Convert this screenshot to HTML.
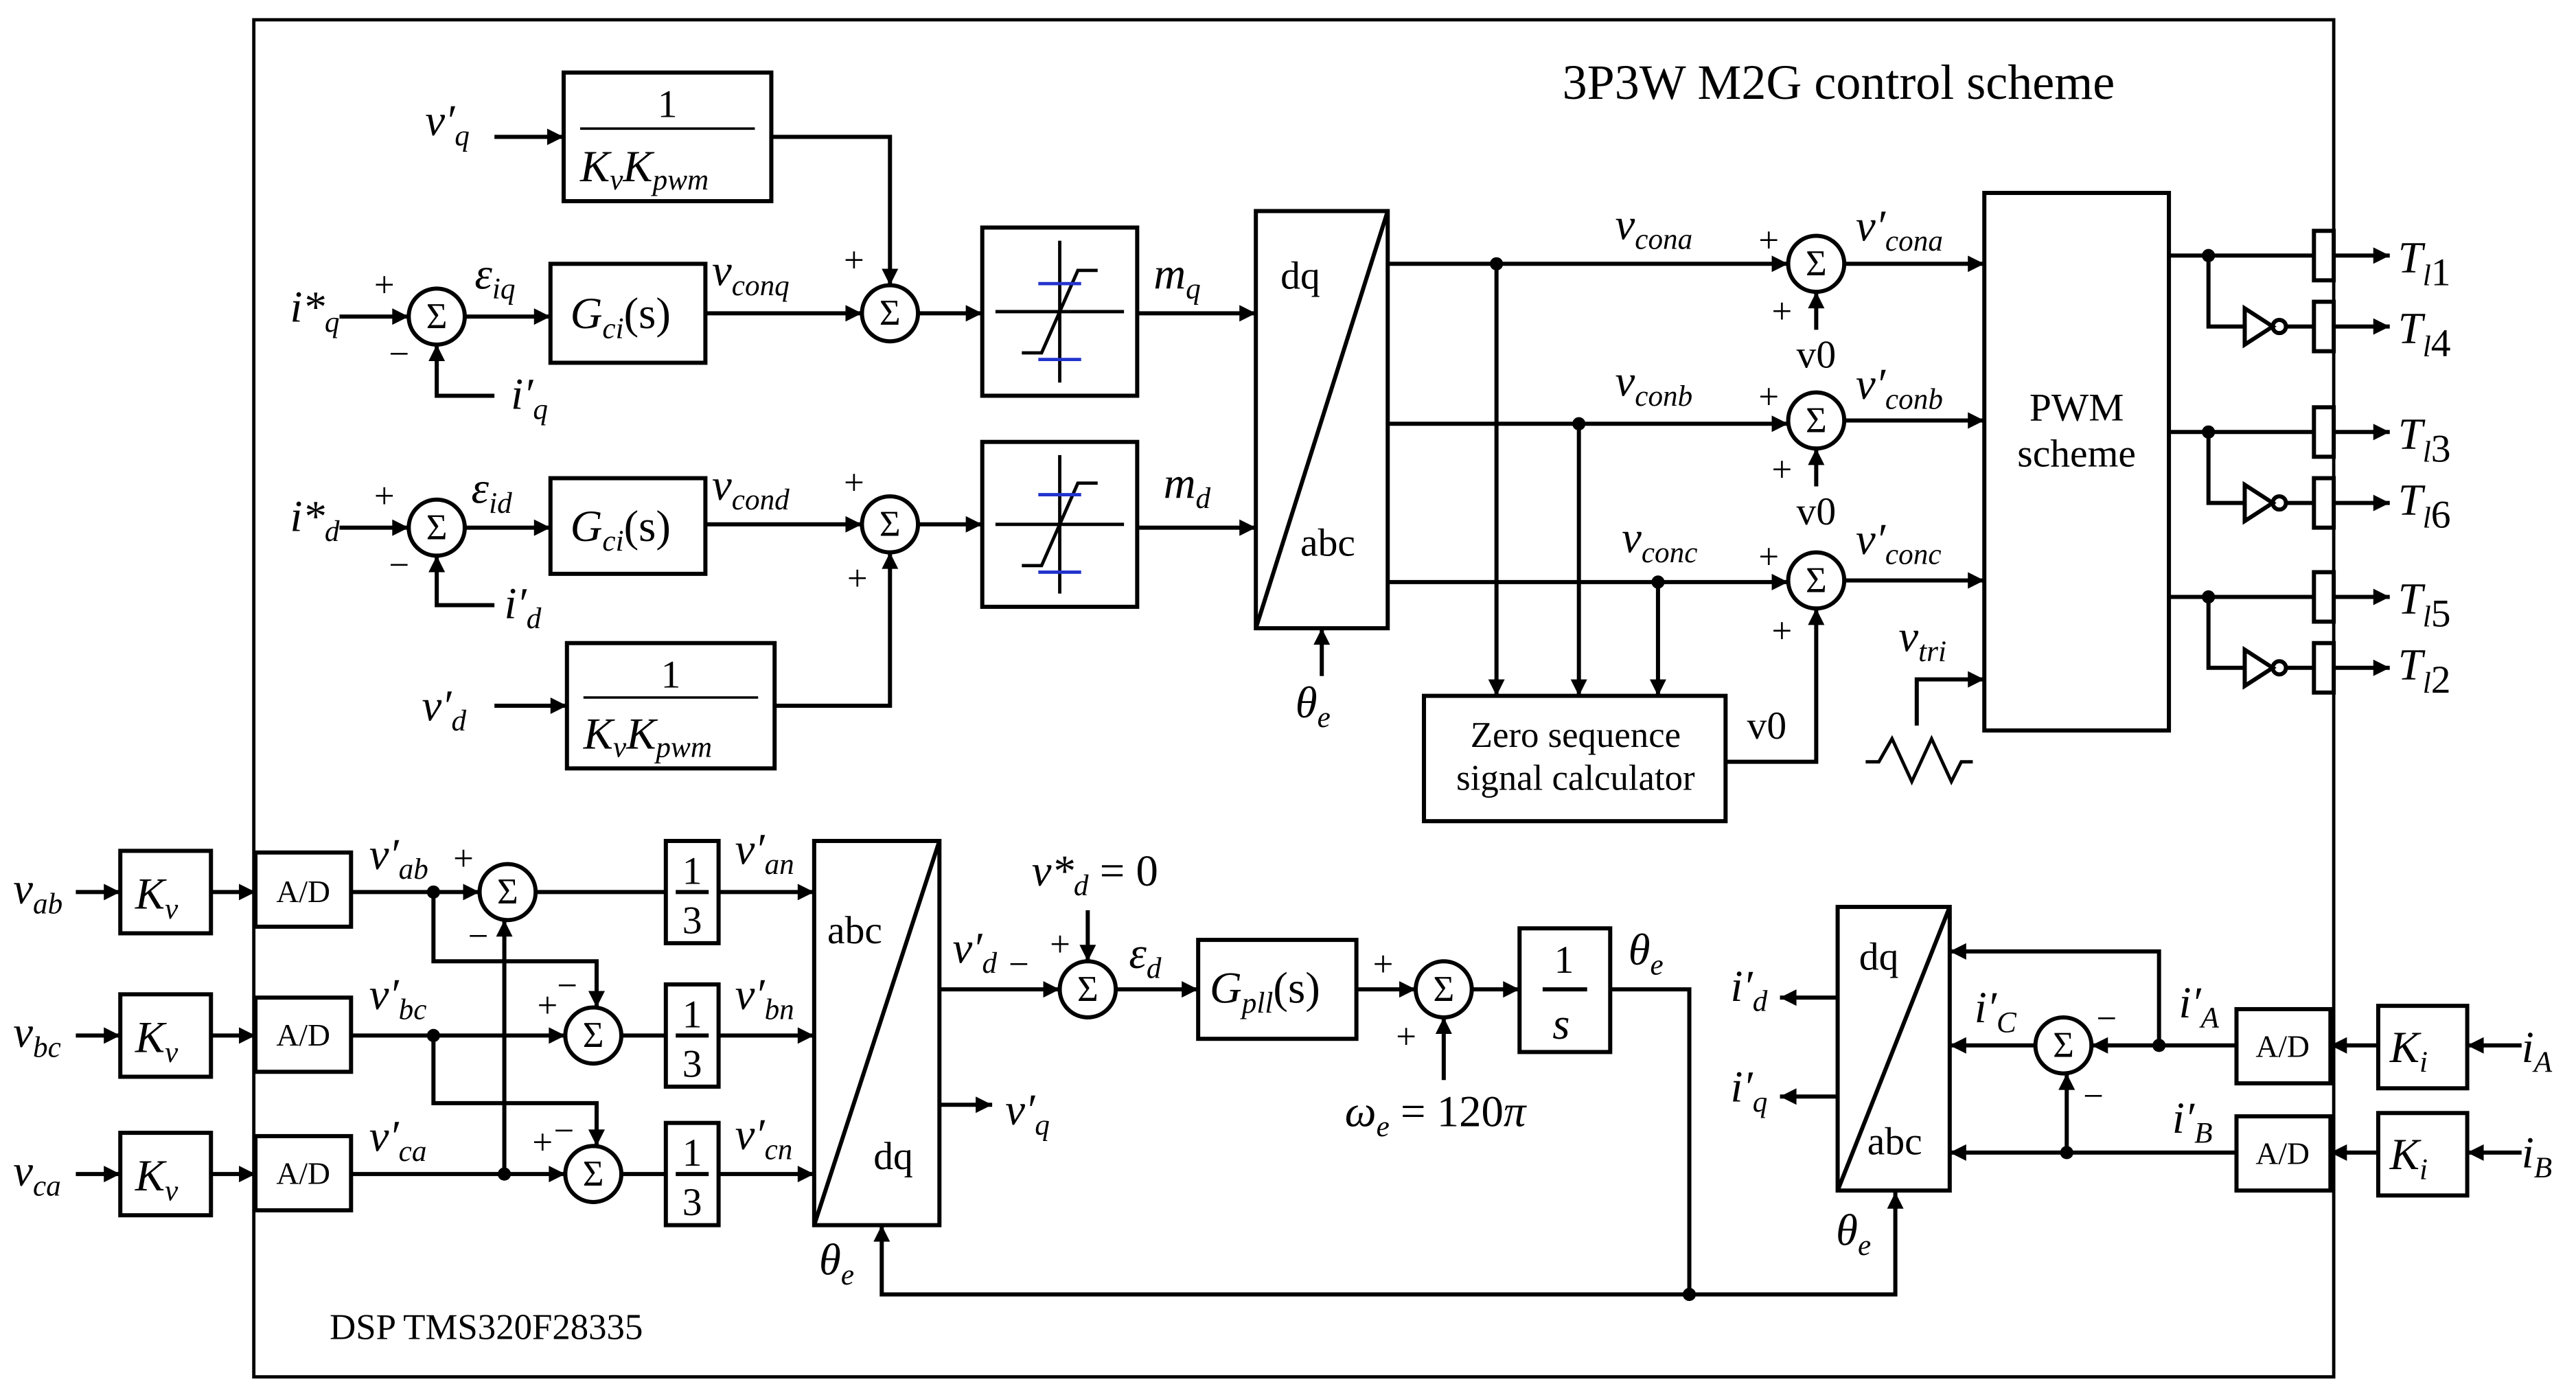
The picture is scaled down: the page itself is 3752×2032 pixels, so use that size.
<!DOCTYPE html>
<html><head><meta charset="utf-8"><style>
html,body{margin:0;padding:0;background:#fff;}
svg{display:block;}
text{font-family:"Liberation Serif",serif;fill:#000;}
.m{font-style:italic;font-size:27px;}
.s{font-size:18px;font-style:italic;}
.n{font-size:22px;}
</style></head><body>
<svg width="3752" height="2032" viewBox="0 0 1563 846" preserveAspectRatio="none" xmlns="http://www.w3.org/2000/svg">
<defs>
<marker id="b" viewBox="0 0 10 10" refX="10" refY="5" markerWidth="14" markerHeight="10" orient="auto" markerUnits="userSpaceOnUse"><path d="M0,0 L10,5 L0,10 z" fill="#000"/></marker></defs>
<g fill="none" stroke="#000" stroke-width="2.5">
<rect x="154" y="12" width="1262" height="823" stroke-width="2"/>
<rect x="342" y="44" width="126" height="78"/><line x1="352" y1="78" x2="458" y2="78" stroke-width="1.5"/>
<rect x="344" y="390" width="126" height="76"/><line x1="354" y1="423" x2="460" y2="423" stroke-width="1.5"/>
<rect x="334" y="160" width="94" height="60"/><rect x="334" y="290" width="94" height="58"/>
<rect x="596" y="138" width="94" height="102"/><rect x="596" y="268" width="94" height="100"/>
<circle cx="265" cy="192" r="17"/><circle cx="265" cy="320" r="17"/><circle cx="540" cy="190" r="17"/><circle cx="540" cy="318" r="17"/>
<rect x="762" y="128" width="80" height="253"/><line x1="762" y1="381" x2="842" y2="128"/>
<rect x="864" y="422" width="183" height="76"/>
<rect x="1204" y="117" width="112" height="326"/>
<circle cx="1102" cy="160" r="17"/><circle cx="1102" cy="255" r="17"/><circle cx="1102" cy="352" r="17"/>
<path d="M643,146 V232 M604,189 H682 M620,214 L632,214 L654,164 L666,164" stroke-width="2"/>
<path d="M643,276 V360 M604,318 H682 M620,343 L632,343 L654,293 L666,293" stroke-width="2"/>
<path d="M630,172 H656 M630,218 H656 M630,300 H656 M630,347 H656" stroke="#2233cc" stroke-width="2"/>
<line x1="300" y1="83" x2="342" y2="83" marker-end="url(#b)"/>
<polyline points="468,83 540,83 540,173" marker-end="url(#b)"/>
<line x1="206" y1="192" x2="248" y2="192" marker-end="url(#b)"/>
<polyline points="300,240 265,240 265,209" marker-end="url(#b)"/>
<line x1="282" y1="192" x2="334" y2="192" marker-end="url(#b)"/>
<line x1="428" y1="190" x2="523" y2="190" marker-end="url(#b)"/>
<line x1="557" y1="190" x2="596" y2="190" marker-end="url(#b)"/>
<line x1="690" y1="190" x2="762" y2="190" marker-end="url(#b)"/>
<line x1="206" y1="320" x2="248" y2="320" marker-end="url(#b)"/>
<polyline points="300,367 265,367 265,337" marker-end="url(#b)"/>
<line x1="282" y1="320" x2="334" y2="320" marker-end="url(#b)"/>
<line x1="428" y1="318" x2="523" y2="318" marker-end="url(#b)"/>
<line x1="557" y1="318" x2="596" y2="318" marker-end="url(#b)"/>
<line x1="690" y1="320" x2="762" y2="320" marker-end="url(#b)"/>
<line x1="300" y1="428" x2="344" y2="428" marker-end="url(#b)"/>
<polyline points="470,428 540,428 540,335" marker-end="url(#b)"/>
<line x1="802" y1="410" x2="802" y2="381" marker-end="url(#b)"/>
<line x1="842" y1="160" x2="1085" y2="160" marker-end="url(#b)"/>
<line x1="842" y1="257" x2="1085" y2="257" marker-end="url(#b)"/>
<line x1="842" y1="353" x2="1085" y2="353" marker-end="url(#b)"/>
<line x1="908" y1="160" x2="908" y2="422" marker-end="url(#b)"/>
<line x1="958" y1="257" x2="958" y2="422" marker-end="url(#b)"/>
<line x1="1006" y1="353" x2="1006" y2="422" marker-end="url(#b)"/>
<line x1="1102" y1="200" x2="1102" y2="177" marker-end="url(#b)"/>
<line x1="1102" y1="295" x2="1102" y2="272" marker-end="url(#b)"/>
<polyline points="1047,462 1102,462 1102,369" marker-end="url(#b)"/>
<line x1="1119" y1="160" x2="1204" y2="160" marker-end="url(#b)"/>
<line x1="1119" y1="255" x2="1204" y2="255" marker-end="url(#b)"/>
<line x1="1119" y1="352" x2="1204" y2="352" marker-end="url(#b)"/>
<polyline points="1163,440 1163,412 1204,412" marker-end="url(#b)"/>
<polyline points="1132,462 1140,462 1148,448 1160,474 1172,448 1184,474 1190,462 1197,462" stroke-width="2"/>
<g>
<line x1="1316" y1="155" x2="1404" y2="155"/><polyline points="1340,155 1340,198 1362,198"/>
<rect x="1404" y="140" width="12" height="30"/><rect x="1404" y="183" width="12" height="30"/>
<path d="M1362,187 L1362,209 L1379,198 Z"/><circle cx="1383" cy="198" r="4"/><line x1="1387" y1="198" x2="1404" y2="198"/>
<line x1="1416" y1="155" x2="1450" y2="155" marker-end="url(#b)"/><line x1="1416" y1="198" x2="1450" y2="198" marker-end="url(#b)"/>
</g>
<g transform="translate(0,107)">
<line x1="1316" y1="155" x2="1404" y2="155"/><polyline points="1340,155 1340,198 1362,198"/>
<rect x="1404" y="140" width="12" height="30"/><rect x="1404" y="183" width="12" height="30"/>
<path d="M1362,187 L1362,209 L1379,198 Z"/><circle cx="1383" cy="198" r="4"/><line x1="1387" y1="198" x2="1404" y2="198"/>
<line x1="1416" y1="155" x2="1450" y2="155" marker-end="url(#b)"/><line x1="1416" y1="198" x2="1450" y2="198" marker-end="url(#b)"/>
</g>
<g transform="translate(0,207)">
<line x1="1316" y1="155" x2="1404" y2="155"/><polyline points="1340,155 1340,198 1362,198"/>
<rect x="1404" y="140" width="12" height="30"/><rect x="1404" y="183" width="12" height="30"/>
<path d="M1362,187 L1362,209 L1379,198 Z"/><circle cx="1383" cy="198" r="4"/><line x1="1387" y1="198" x2="1404" y2="198"/>
<line x1="1416" y1="155" x2="1450" y2="155" marker-end="url(#b)"/><line x1="1416" y1="198" x2="1450" y2="198" marker-end="url(#b)"/>
</g>
<rect x="73" y="516" width="55" height="50"/><rect x="73" y="603" width="55" height="50"/><rect x="73" y="687" width="55" height="50"/>
<rect x="155" y="517" width="58" height="45"/><rect x="155" y="605" width="58" height="45"/><rect x="155" y="689" width="58" height="45"/>
<line x1="46" y1="541" x2="73" y2="541" marker-end="url(#b)"/><line x1="46" y1="628" x2="73" y2="628" marker-end="url(#b)"/><line x1="46" y1="712" x2="73" y2="712" marker-end="url(#b)"/>
<line x1="128" y1="541" x2="155" y2="541" marker-end="url(#b)"/><line x1="128" y1="628" x2="155" y2="628" marker-end="url(#b)"/><line x1="128" y1="712" x2="155" y2="712" marker-end="url(#b)"/>
<circle cx="308" cy="541" r="17"/><circle cx="360" cy="628" r="17"/><circle cx="360" cy="712" r="17"/>
<rect x="404" y="510" width="32" height="62"/><rect x="404" y="597" width="32" height="62"/><rect x="404" y="681" width="32" height="62"/>
<line x1="410" y1="541" x2="430" y2="541"/><line x1="410" y1="628" x2="430" y2="628"/><line x1="410" y1="712" x2="430" y2="712"/>
<line x1="213" y1="541" x2="291" y2="541" marker-end="url(#b)"/>
<line x1="213" y1="628" x2="343" y2="628" marker-end="url(#b)"/>
<line x1="213" y1="712" x2="343" y2="712" marker-end="url(#b)"/>
<polyline points="263,541 263,583 362,583 362,611" marker-end="url(#b)"/>
<polyline points="263,628 263,669 362,669 362,695" marker-end="url(#b)"/>
<line x1="306" y1="712" x2="306" y2="558" marker-end="url(#b)"/>
<line x1="325" y1="541" x2="404" y2="541"/><line x1="377" y1="628" x2="404" y2="628"/><line x1="377" y1="712" x2="404" y2="712"/>
<line x1="436" y1="541" x2="494" y2="541" marker-end="url(#b)"/><line x1="436" y1="628" x2="494" y2="628" marker-end="url(#b)"/><line x1="436" y1="712" x2="494" y2="712" marker-end="url(#b)"/>
<rect x="494" y="510" width="76" height="233"/><line x1="494" y1="743" x2="570" y2="510"/>
<line x1="570" y1="600" x2="643" y2="600" marker-end="url(#b)"/>
<line x1="570" y1="670" x2="602" y2="670" marker-end="url(#b)"/>
<circle cx="660" cy="600" r="17"/>
<line x1="660" y1="552" x2="660" y2="583" marker-end="url(#b)"/>
<line x1="677" y1="600" x2="727" y2="600" marker-end="url(#b)"/>
<rect x="727" y="570" width="96" height="60"/>
<line x1="823" y1="600" x2="859" y2="600" marker-end="url(#b)"/>
<circle cx="876" cy="600" r="17"/>
<line x1="876" y1="655" x2="876" y2="617" marker-end="url(#b)"/>
<line x1="893" y1="600" x2="922" y2="600" marker-end="url(#b)"/>
<rect x="922" y="563" width="55" height="75"/><line x1="936" y1="600" x2="963" y2="600"/>
<polyline points="977,600 1025,600 1025,785 1150,785 1150,723" marker-end="url(#b)"/>
<polyline points="1025,785 535,785 535,743" marker-end="url(#b)"/>
<rect x="1115" y="550" width="68" height="172"/><line x1="1115" y1="722" x2="1183" y2="550"/>
<line x1="1115" y1="605" x2="1080" y2="605" marker-end="url(#b)"/>
<line x1="1115" y1="665" x2="1080" y2="665" marker-end="url(#b)"/>
<rect x="1443" y="610" width="54" height="50"/><rect x="1443" y="675" width="54" height="50"/>
<rect x="1357" y="612" width="57" height="45"/><rect x="1357" y="677" width="57" height="45"/>
<line x1="1530" y1="634" x2="1497" y2="634" marker-end="url(#b)"/><line x1="1530" y1="699" x2="1497" y2="699" marker-end="url(#b)"/>
<line x1="1443" y1="634" x2="1414" y2="634" marker-end="url(#b)"/><line x1="1443" y1="699" x2="1414" y2="699" marker-end="url(#b)"/>
<line x1="1357" y1="634" x2="1269" y2="634" marker-end="url(#b)"/>
<polyline points="1310,634 1310,577 1183,577" marker-end="url(#b)"/>
<line x1="1357" y1="699" x2="1183" y2="699" marker-end="url(#b)"/>
<line x1="1254" y1="699" x2="1254" y2="651" marker-end="url(#b)"/>
<circle cx="1252" cy="634" r="17"/>
<line x1="1235" y1="634" x2="1183" y2="634" marker-end="url(#b)"/>
</g>
<g fill="#000">
<circle cx="908" cy="160" r="4"/><circle cx="958" cy="257" r="4"/><circle cx="1006" cy="353" r="4"/>
<circle cx="1340" cy="155" r="4"/><circle cx="1340" cy="262" r="4"/><circle cx="1340" cy="362" r="4"/>
<circle cx="263" cy="541" r="4"/><circle cx="263" cy="628" r="4"/><circle cx="306" cy="712" r="4"/>
<circle cx="1025" cy="785" r="4"/><circle cx="1310" cy="634" r="4"/><circle cx="1254" cy="699" r="4"/>
</g>
<g class="n" text-anchor="middle" font-size="20">
<text x="265" y="199">Σ</text><text x="265" y="327">Σ</text><text x="540" y="197">Σ</text><text x="540" y="325">Σ</text>
<text x="1102" y="167">Σ</text><text x="1102" y="262">Σ</text><text x="1102" y="359">Σ</text>
<text x="308" y="548">Σ</text><text x="360" y="635">Σ</text><text x="360" y="719">Σ</text>
<text x="660" y="607">Σ</text><text x="876" y="607">Σ</text><text x="1252" y="641">Σ</text>
</g>
<text x="948" y="60" font-size="30">3P3W M2G control scheme</text>
<text x="200" y="812" font-size="22">DSP TMS320F28335</text>
<g text-anchor="middle" font-size="24">
<text x="405" y="71">1</text><text x="407" y="417">1</text>
<text x="420" y="536">1</text><text x="420" y="623">1</text><text x="420" y="707">1</text>
<text x="420" y="566">3</text><text x="420" y="653">3</text><text x="420" y="737">3</text>
<text x="949" y="590">1</text>
<text x="1260" y="255">PWM</text><text x="1260" y="283">scheme</text>
<text x="956" y="453" font-size="22">Zero sequence</text><text x="956" y="479" font-size="22">signal calculator</text>
<text x="184" y="547" font-size="19">A/D</text><text x="184" y="634" font-size="19">A/D</text><text x="184" y="718" font-size="19">A/D</text>
<text x="1385" y="641" font-size="19">A/D</text><text x="1385" y="706" font-size="19">A/D</text>
</g>
<g font-size="24">
<text x="777" y="175">dq</text><text x="789" y="337">abc</text>
<text x="502" y="572">abc</text><text x="530" y="709">dq</text>
<text x="1128" y="588">dq</text><text x="1133" y="700">abc</text>
<text x="1060" y="448">v0</text><text x="1090" y="223">v0</text><text x="1090" y="318">v0</text>
</g>
<g class="m">
<text x="352" y="110">K<tspan class="s" dy="5">v</tspan><tspan dy="-5">K</tspan><tspan class="s" dy="5">pwm</tspan></text>
<text x="354" y="454">K<tspan class="s" dy="5">v</tspan><tspan dy="-5">K</tspan><tspan class="s" dy="5">pwm</tspan></text>
<text x="346" y="199">G<tspan class="s" dy="6">ci</tspan><tspan dy="-6" font-style="normal">(s)</tspan></text>
<text x="346" y="328">G<tspan class="s" dy="6">ci</tspan><tspan dy="-6" font-style="normal">(s)</tspan></text>
<text x="734" y="608">G<tspan class="s" dy="6">pll</tspan><tspan dy="-6" font-style="normal">(s)</tspan></text>
<text x="942" y="630">s</text>
<text x="258" y="82">v′<tspan class="s" dy="6">q</tspan></text>
<text x="176" y="195">i*<tspan class="s" dy="6">q</tspan></text>
<text x="310" y="248">i′<tspan class="s" dy="6">q</tspan></text>
<text x="288" y="175">ε<tspan class="s" dy="6">iq</tspan></text>
<text x="432" y="173">v<tspan class="s" dy="6">conq</tspan></text>
<text x="176" y="322">i*<tspan class="s" dy="6">d</tspan></text>
<text x="306" y="375">i′<tspan class="s" dy="6">d</tspan></text>
<text x="286" y="305">ε<tspan class="s" dy="6">id</tspan></text>
<text x="432" y="303">v<tspan class="s" dy="6">cond</tspan></text>
<text x="256" y="437">v′<tspan class="s" dy="6">d</tspan></text>
<text x="700" y="175">m<tspan class="s" dy="6">q</tspan></text>
<text x="706" y="302">m<tspan class="s" dy="6">d</tspan></text>
<text x="786" y="435">θ<tspan class="s" dy="6">e</tspan></text>
<text x="980" y="145">v<tspan class="s" dy="6">cona</tspan></text>
<text x="980" y="240">v<tspan class="s" dy="6">conb</tspan></text>
<text x="984" y="335">v<tspan class="s" dy="6">conc</tspan></text>
<text x="1126" y="146">v′<tspan class="s" dy="6">cona</tspan></text>
<text x="1126" y="242">v′<tspan class="s" dy="6">conb</tspan></text>
<text x="1126" y="336">v′<tspan class="s" dy="6">conc</tspan></text>
<text x="1152" y="395">v<tspan class="s" dy="6">tri</tspan></text>
<text x="1455" y="165">T<tspan class="s" dy="8" font-size="22">l</tspan><tspan font-style="normal" font-size="24">1</tspan></text>
<text x="1455" y="208">T<tspan class="s" dy="8" font-size="22">l</tspan><tspan font-style="normal" font-size="24">4</tspan></text>
<text x="1455" y="272">T<tspan class="s" dy="8" font-size="22">l</tspan><tspan font-style="normal" font-size="24">3</tspan></text>
<text x="1455" y="312">T<tspan class="s" dy="8" font-size="22">l</tspan><tspan font-style="normal" font-size="24">6</tspan></text>
<text x="1455" y="372">T<tspan class="s" dy="8" font-size="22">l</tspan><tspan font-style="normal" font-size="24">5</tspan></text>
<text x="1455" y="412">T<tspan class="s" dy="8" font-size="22">l</tspan><tspan font-style="normal" font-size="24">2</tspan></text>
<text x="8" y="548">v<tspan class="s" dy="6">ab</tspan></text>
<text x="8" y="635">v<tspan class="s" dy="6">bc</tspan></text>
<text x="8" y="719">v<tspan class="s" dy="6">ca</tspan></text>
<text x="82" y="551">K<tspan class="s" dy="6">v</tspan></text>
<text x="82" y="638">K<tspan class="s" dy="6">v</tspan></text>
<text x="82" y="722">K<tspan class="s" dy="6">v</tspan></text>
<text x="1450" y="644">K<tspan class="s" dy="6">i</tspan></text>
<text x="1450" y="709">K<tspan class="s" dy="6">i</tspan></text>
<text x="1530" y="644">i<tspan class="s" dy="6">A</tspan></text>
<text x="1530" y="708">i<tspan class="s" dy="6">B</tspan></text>
<text x="224" y="527">v′<tspan class="s" dy="6">ab</tspan></text>
<text x="224" y="612">v′<tspan class="s" dy="6">bc</tspan></text>
<text x="224" y="698">v′<tspan class="s" dy="6">ca</tspan></text>
<text x="446" y="524">v′<tspan class="s" dy="6">an</tspan></text>
<text x="446" y="612">v′<tspan class="s" dy="6">bn</tspan></text>
<text x="446" y="697">v′<tspan class="s" dy="6">cn</tspan></text>
<text x="578" y="584">v′<tspan class="s" dy="6">d</tspan></text>
<text x="610" y="682">v′<tspan class="s" dy="6">q</tspan></text>
<text x="626" y="537">v*<tspan class="s" dy="6">d</tspan><tspan dy="-6" font-style="normal"> = 0</tspan></text>
<text x="685" y="587">ε<tspan class="s" dy="6">d</tspan></text>
<text x="816" y="683">ω<tspan class="s" dy="6">e</tspan><tspan dy="-6" font-style="normal"> = 120</tspan>π</text>
<text x="988" y="585">θ<tspan class="s" dy="6">e</tspan></text>
<text x="497" y="773">θ<tspan class="s" dy="6">e</tspan></text>
<text x="1114" y="755">θ<tspan class="s" dy="6">e</tspan></text>
<text x="1050" y="607">i′<tspan class="s" dy="6">d</tspan></text>
<text x="1050" y="668">i′<tspan class="s" dy="6">q</tspan></text>
<text x="1198" y="620">i′<tspan class="s" dy="6">C</tspan></text>
<text x="1322" y="617">i′<tspan class="s" dy="6">A</tspan></text>
<text x="1318" y="687">i′<tspan class="s" dy="6">B</tspan></text>
</g>
<g font-size="22">
<text x="227" y="180">+</text><text x="236" y="222">−</text>
<text x="227" y="308">+</text><text x="236" y="350">−</text>
<text x="512" y="165">+</text><text x="512" y="300">+</text><text x="514" y="358">+</text>
<text x="1067" y="153">+</text><text x="1075" y="196">+</text>
<text x="1067" y="248">+</text><text x="1075" y="292">+</text>
<text x="1067" y="345">+</text><text x="1075" y="390">+</text>
<text x="275" y="528">+</text><text x="284" y="575">−</text>
<text x="326" y="617">+</text><text x="338" y="605">−</text>
<text x="323" y="700">+</text><text x="336" y="693">−</text>
<text x="612" y="592">−</text><text x="637" y="580">+</text>
<text x="833" y="592">+</text><text x="847" y="636">+</text>
<text x="1272" y="625">−</text><text x="1264" y="672">−</text>
</g>
</svg>
</body></html>
